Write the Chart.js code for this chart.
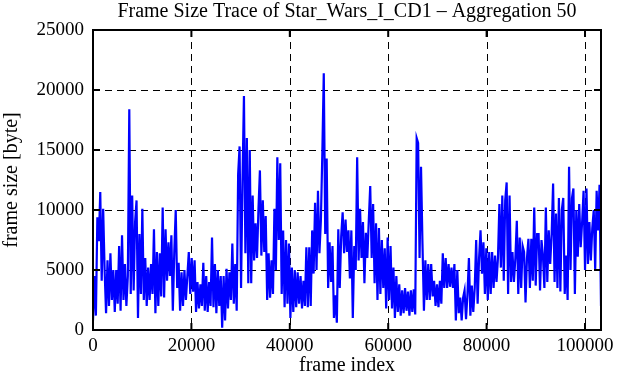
<!DOCTYPE html>
<html><head><meta charset="utf-8">
<script src="https://cdn.jsdelivr.net/npm/chart.js@4/dist/chart.umd.min.js"></script>
<style>html,body{margin:0;padding:0;background:#fff}canvas{display:block}</style>
</head><body>
<canvas id="c" width="621" height="380"></canvas>
<script>
// frames between successive plotted (aggregated) samples
const FRAME_STEP = 295;
const X_MAX = 103250;
const Y_MAX = 25000;

const xTicks = [0, 20000, 40000, 60000, 80000, 100000];
const yTicks = [0, 5000, 10000, 15000, 20000, 25000];

const titleText = 'Frame Size Trace of Star_Wars_I_CD1 \u2013 Aggregation 50';
const xTitle = 'frame index';
const yTitle = 'frame size [byte]';

// aggregated frame sizes [byte]
const frameSizes = [
  800, 4500, 1200, 9400, 7400, 11500, 4100, 10100, 5000, 1400,
  5800, 2000, 6400, 2500, 5000, 1500, 5000, 2200, 7000, 1600,
  7900, 2500, 5500, 2000, 4500, 18400, 3000, 11200, 3300, 9000,
  10800, 1000, 8000, 3000, 10100, 2500, 6000, 2000, 5200, 2500,
  5500, 3000, 8400, 1400, 6500, 2000, 6400, 2800, 10200, 2700,
  8400, 4100, 7300, 4500, 7900, 1600, 6500, 10000, 3500, 5600,
  1600, 4800, 2000, 5000, 2500, 4500, 6500, 3000, 6000, 3200,
  5800, 1500, 4000, 1800, 3800, 2000, 5600, 1600, 4500, 1500,
  4000, 2000, 7700, 1900, 5500, 1400, 5000, 2000, 4500, 200,
  4500, 800, 5100, 1800, 4800, 2500, 7200, 2200, 5500,
  1600, 13000, 15300, 3500, 12500, 19500, 6400, 16000, 3900, 15000,
  3900, 11200, 5800, 8900, 6000, 10100, 13300, 6200, 10800, 6500,
  9500, 2500, 6400, 2700, 5800, 3000, 10100, 5000, 14400, 7500,
  13900, 3000, 8300, 1900, 7500, 2200, 7200, 1000, 5200, 1500,
  5000, 1900, 4800, 2200, 4500, 1800, 4100, 2000, 6900, 1900,
  6900, 2000, 8300, 4700, 10600, 5000, 11600, 6400, 9100, 14700,
  21400, 8000, 14300, 3500, 7300, 4000, 7000, 1000, 2900, 600,
  8400, 3500, 7800, 9800, 6400, 9200, 6500, 8300, 4300, 8300,
  1000, 7000, 5000, 14400, 5800, 10100, 6000, 9000, 3900, 8100,
  6000, 9100, 12000, 6000, 10500, 3900, 8900, 2500, 8500, 3000,
  7500, 3500, 6800, 1800, 7700, 2500, 7000,
  1800, 5200, 1000, 4500, 1500, 3800, 1200, 3300, 1400, 3500,
  1600, 3200, 1200, 3300, 1500, 3400, 1300, 16000, 15600, 6000,
  13600, 7200, 1600, 5800, 2500, 5500, 2500, 5500, 2800, 4100,
  2000, 3800, 1900, 4100, 2200, 6400, 3500, 6000, 3500, 5500,
  3600, 5200, 3500, 5500, 800, 5000, 1400, 2700, 800, 2700,
  3300, 900, 3000, 6000, 1200, 3700, 1500, 3500, 7500, 2200,
  6000, 8300, 4700, 7300, 3000, 6800, 2500, 6500, 3000, 6500,
  3500, 6200, 4000, 6000, 10500, 5200, 11200, 4100, 10800, 12300,
  3000, 11200, 4000, 6500, 4000, 6000, 9100, 3000, 7700, 3500,
  7000, 6500, 2300, 6000, 7600, 3500, 7600, 4100, 10200, 3700,
  8000, 8000, 3300, 7500, 6200, 3500, 10200, 4000, 8300, 5500,
  8000, 12200, 4000, 9700, 3500, 11000, 3200, 10000, 11000, 3000,
  6200, 2500, 13600, 5000, 11000, 11800, 3000, 10000, 6100, 10500,
  6900, 9000, 11600, 5000, 11800, 5500, 9000, 5800, 8500, 10000,
  5000, 11600, 8300, 12100, 2000
];

const points = frameSizes.map((v, i) => ({ x: i * FRAME_STEP, y: v }));

const FONT = 'Liberation Serif, Times New Roman, serif';

const gnuplotFrame = {
  id: 'gnuplotFrame',
  beforeDatasetsDraw(chart) {
    const { ctx, chartArea: a, scales: { x, y } } = chart;
    ctx.save();
    ctx.strokeStyle = '#000';
    ctx.lineWidth = 1;
    ctx.setLineDash([7, 5]);
    xTicks.forEach(v => {
      if (v <= 0 || v >= X_MAX) return;
      const px = Math.round(x.getPixelForValue(v)) + 0.5;
      ctx.beginPath(); ctx.moveTo(px, a.top); ctx.lineTo(px, a.bottom); ctx.stroke();
    });
    yTicks.forEach(v => {
      if (v <= 0 || v >= Y_MAX) return;
      const py = Math.round(y.getPixelForValue(v)) + 0.5;
      ctx.beginPath(); ctx.moveTo(a.left, py); ctx.lineTo(a.right, py); ctx.stroke();
    });
    ctx.restore();
  },
  afterDatasetsDraw(chart) {
    const { ctx, chartArea: a, scales: { x, y } } = chart;
    ctx.save();
    ctx.strokeStyle = '#000';
    ctx.setLineDash([]);
    ctx.lineWidth = 2;
    ctx.strokeRect(a.left, a.top, a.right - a.left, a.bottom - a.top);
    const L = 7;
    xTicks.forEach(v => {
      const px = x.getPixelForValue(v);
      ctx.beginPath();
      ctx.moveTo(px, a.bottom); ctx.lineTo(px, a.bottom - L);
      ctx.moveTo(px, a.top); ctx.lineTo(px, a.top + L);
      ctx.stroke();
    });
    yTicks.forEach(v => {
      const py = y.getPixelForValue(v);
      ctx.beginPath();
      ctx.moveTo(a.left, py); ctx.lineTo(a.left + L, py);
      ctx.moveTo(a.right, py); ctx.lineTo(a.right - L, py);
      ctx.stroke();
    });
    ctx.restore();
  }
};

new Chart(document.getElementById('c'), {
  type: 'line',
  data: {
    datasets: [{
      data: points,
      borderColor: '#0000ff',
      borderWidth: 2.2,
      pointRadius: 0,
      tension: 0,
      fill: false
    }]
  },
  options: {
    responsive: false,
    devicePixelRatio: 1,
    animation: false,
    layout: { padding: { left: 0, right: 20, top: 0, bottom: 0 } },
    plugins: {
      legend: { display: false },
      tooltip: { enabled: false },
      title: {
        display: true,
        text: titleText,
        fullSize: false,
        color: '#000',
        font: { family: FONT, size: 20, weight: 'normal' },
        padding: { top: 0, bottom: 6 }
      }
    },
    scales: {
      x: {
        type: 'linear',
        min: 0,
        max: X_MAX,
        afterBuildTicks: s => { s.ticks = xTicks.map(v => ({ value: v })); },
        afterFit: s => { s.height = 50; },
        grid: { display: false, drawTicks: false },
        border: { display: false },
        ticks: {
          color: '#000', padding: 5, maxRotation: 0, autoSkip: false,
          font: { family: FONT, size: 19 },
          callback: v => String(v)
        },
        title: {
          display: true, text: xTitle, color: '#000',
          font: { family: FONT, size: 20 },
          padding: { top: 0, bottom: 2 }
        }
      },
      y: {
        type: 'linear',
        min: 0,
        max: Y_MAX,
        afterBuildTicks: s => { s.ticks = yTicks.map(v => ({ value: v })); },
        afterFit: s => { s.width = 93; },
        grid: { display: false, drawTicks: false },
        border: { display: false },
        ticks: {
          color: '#000', padding: 9, autoSkip: false,
          font: { family: FONT, size: 19 },
          callback: v => String(v)
        },
        title: {
          display: true, text: yTitle, color: '#000',
          font: { family: FONT, size: 20 },
          padding: { top: 0, bottom: 0 }
        }
      }
    }
  },
  plugins: [gnuplotFrame]
});
</script>
</body></html>
